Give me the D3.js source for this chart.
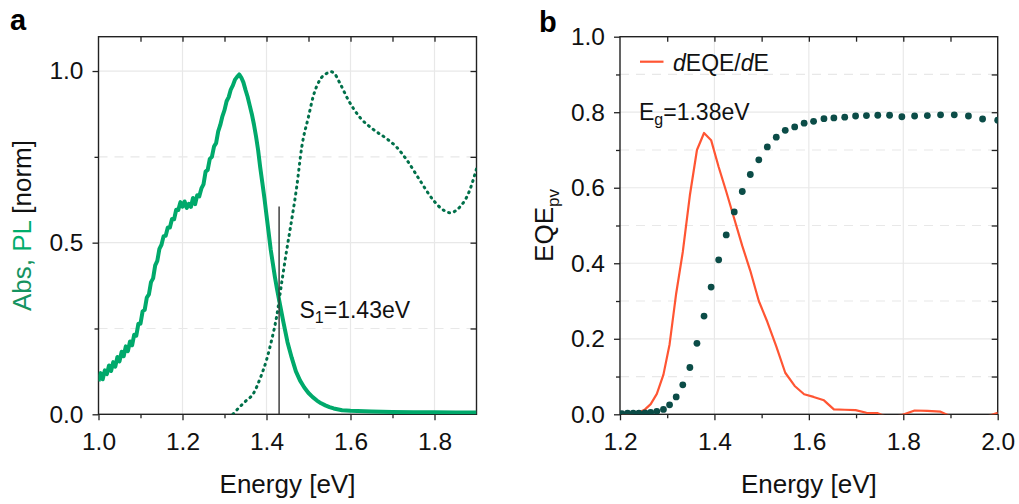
<!DOCTYPE html>
<html><head><meta charset="utf-8">
<script src="https://cdn.jsdelivr.net/npm/d3@7"></script>
<style>
html,body{margin:0;padding:0;background:#fff;}
svg{display:block;font-family:"Liberation Sans",Arial,Helvetica,sans-serif;}
</style></head><body>
<svg id="chart" width="1019" height="504"></svg>
<script>
// ---- panel a: normalised PL (solid) and absorption (dotted) ----
const plEnergy = [1.000,1.005,1.010,1.015,1.020,1.025,1.030,1.035,1.040,1.045,1.050,1.055,1.060,1.065,1.070,1.075,1.080,1.085,1.090,1.095,
  1.100,1.105,1.110,1.115,1.120,1.125,1.130,1.135,1.140,1.145,1.150,1.155,1.160,1.165,1.170,1.175,1.180,1.185,1.190,1.195,
  1.200,1.205,1.210,1.215,1.220,1.225,1.230,1.235,1.240,1.245,1.250,1.255,1.260,1.265,1.270,1.275,1.280,1.285,1.290,1.295,
  1.300,1.305,1.310,1.315,1.320,1.325,1.330,1.335,1.340,1.345,1.350,1.355,1.360,1.365,1.370,1.375,1.380,1.385,1.390,1.395,
  1.400,1.405,1.410,1.415,1.420,1.425,1.430,1.440,1.450,1.460,1.470,1.480,1.490,1.500,1.510,1.520,1.530,1.540,1.550,1.560,
  1.580,1.600,1.650,1.700,1.750,1.800,1.850,1.900];
const plValue = [0.096,0.120,0.102,0.128,0.117,0.142,0.126,0.152,0.139,0.167,0.154,0.182,0.169,0.198,0.184,0.212,0.201,0.232,0.229,0.264,
  0.264,0.300,0.304,0.340,0.349,0.385,0.396,0.434,0.447,0.482,0.494,0.519,0.520,0.544,0.544,0.569,0.568,0.596,0.595,0.618,
  0.605,0.620,0.601,0.613,0.604,0.630,0.612,0.638,0.635,0.658,0.670,0.707,0.712,0.744,0.750,0.780,0.790,0.824,0.843,0.868,
  0.886,0.912,0.924,0.946,0.958,0.975,0.983,0.990,0.981,0.967,0.945,0.925,0.900,0.875,0.845,0.810,0.770,0.720,0.675,0.630,
  0.580,0.530,0.480,0.440,0.400,0.365,0.333,0.270,0.210,0.165,0.125,0.098,0.078,0.062,0.050,0.040,0.032,0.026,0.021,0.017,
  0.012,0.010,0.008,0.007,0.006,0.006,0.005,0.005];

const absEnergy = [1.320,1.335,1.350,1.369,1.385,1.400,1.412,1.424,1.436,1.448,1.456,1.472,1.484,1.500,1.511,1.527,1.543,1.553,1.560,
  1.575,1.595,1.623,1.654,1.686,1.710,1.734,1.765,1.797,1.821,1.837,1.861,1.881,1.900];
const absValue = [0.000,0.020,0.038,0.061,0.105,0.158,0.215,0.284,0.382,0.478,0.537,0.663,0.779,0.867,0.925,0.974,0.993,0.998,0.995,
  0.964,0.915,0.864,0.830,0.803,0.778,0.741,0.682,0.624,0.595,0.587,0.605,0.644,0.715];

const s1Energy = 1.43;      // crossing of Abs and PL
const s1LineTop = 0.605;

// ---- panel b: EQE_pv (dots) and its derivative (line) ----
const eqeEnergy = [1.204,1.216,1.228,1.240,1.253,1.265,1.278,1.292,1.305,1.319,1.333,1.348,1.363,1.378,1.393,1.409,1.425,1.442,1.459,1.476,
  1.494,1.512,1.531,1.550,1.570,1.590,1.610,1.632,1.653,1.676,1.699,1.722,1.746,1.771,1.797,1.824,1.851,1.879,1.908,1.938,1.968,2.000];
const eqeValue = [0.002,0.003,0.003,0.003,0.004,0.005,0.008,0.013,0.025,0.046,0.078,0.124,0.188,0.260,0.337,0.409,0.475,0.536,0.590,0.635,
  0.674,0.708,0.734,0.752,0.761,0.771,0.776,0.783,0.785,0.787,0.790,0.791,0.792,0.792,0.788,0.790,0.791,0.793,0.793,0.790,0.782,0.779];
const dEqeValue = [0.001,0.002,0.003,0.005,0.013,0.027,0.054,0.105,0.185,0.320,0.430,0.580,0.700,0.745,0.726,0.655,0.590,0.518,0.446,0.380,
  0.300,0.245,0.180,0.110,0.075,0.053,0.046,0.037,0.013,0.012,0.011,0.004,0.003,-0.010,-0.002,0.010,0.009,0.007,-0.010,-0.010,-0.010,0.004];

// tick values
const aXMajor = [1.0,1.2,1.4,1.6,1.8];
const aXMinor = [1.1,1.3,1.5,1.7];
const aYMajor = [0.0,0.5,1.0];
const aYMinor = [0.25,0.75];
const bXMajor = [1.2,1.4,1.6,1.8,2.0];
const bXMinor = [1.3,1.5,1.7,1.9];
const bYMajor = [0.0,0.2,0.4,0.6,0.8,1.0];
const bYMinor = [0.1,0.3,0.5,0.7,0.9];

// ---- drawing ----
const svg = d3.select("#chart");
const C = {pl:"#00a96b", abs:"#00704a", eqe:"#0b4c47", deqe:"#ff5533", grid:"#e8e8e8", axis:"#222", text:"#111",
           absLabel:"#15935f", plLabel:"#00ad6b"};
const TICK_FONT = 24.5, TITLE_FONT = 26, NOTE_FONT = 23;

function frame(g, x, y, o) {
  const [x0, x1] = x.range(), [y0, y1] = y.range();
  // grid
  g.append("g").selectAll("line").data(o.xMajor.filter(v => x(v) > x0 + 1 && x(v) < x1 - 1)).join("line")
    .attr("x1", d => x(d)).attr("x2", d => x(d)).attr("y1", y1).attr("y2", y0)
    .attr("stroke", C.grid).attr("stroke-width", 1.2);
  g.append("g").selectAll("line").data(o.yMajor.filter(v => y(v) < y0 - 1 && y(v) > y1 + 1)).join("line")
    .attr("x1", x0).attr("x2", x1).attr("y1", d => y(d)).attr("y2", d => y(d))
    .attr("stroke", C.grid).attr("stroke-width", 1.2);
  g.append("g").selectAll("line").data(o.yMinor).join("line")
    .attr("x1", x0).attr("x2", x1).attr("y1", d => y(d)).attr("y2", d => y(d))
    .attr("stroke", C.grid).attr("stroke-width", 1.2).attr("stroke-dasharray", "9,7");

  const style = sel => {
    sel.select(".domain").remove();
    sel.selectAll(".tick line").attr("stroke", C.axis).attr("stroke-width", 1.3);
    sel.selectAll(".tick text").attr("fill", C.text).attr("font-size", TICK_FONT)
      .attr("font-family", '"Liberation Sans",Arial,sans-serif');
  };
  const fmt = d3.format(".1f");
  g.append("g").attr("transform", `translate(0,${y0})`)
    .call(d3.axisBottom(x).tickValues(o.xMajor).tickFormat(fmt).tickSize(6).tickPadding(12)).call(style);
  g.append("g").attr("transform", `translate(0,${y0})`)
    .call(d3.axisBottom(x).tickValues(o.xMinor).tickFormat("").tickSize(4)).call(style);
  g.append("g").attr("transform", `translate(0,${y1})`)
    .call(d3.axisTop(x).tickValues(o.xMajor.concat(o.xMinor).filter(v => x(v) > x0 + 1 && x(v) < x1 - 1)).tickFormat("").tickSize(-5)).call(style);
  g.append("g").attr("transform", `translate(${x0},0)`)
    .call(d3.axisLeft(y).tickValues(o.yMajor).tickFormat(fmt).tickSize(6).tickPadding(9)).call(style);
  g.append("g").attr("transform", `translate(${x0},0)`)
    .call(d3.axisLeft(y).tickValues(o.yMinor).tickFormat("").tickSize(4)).call(style);
  g.append("g").attr("transform", `translate(${x1},0)`)
    .call(d3.axisRight(y).tickValues(o.yMajor.concat(o.yMinor).filter(v => y(v) < y0 - 1 && y(v) > y1 + 1)).tickFormat("").tickSize(-6)).call(style);

  g.append("rect").attr("x", x0).attr("y", y1).attr("width", x1 - x0).attr("height", y0 - y1)
    .attr("fill", "none").attr("stroke", C.axis).attr("stroke-width", 1.4);

  g.append("text").attr("x", (x0 + x1) / 2).attr("y", 493).attr("text-anchor", "middle")
    .attr("font-size", TITLE_FONT).attr("fill", C.text).text("Energy [eV]");
}

function clip(id, x, y) {
  const [x0, x1] = x.range(), [y0, y1] = y.range();
  svg.append("defs").append("clipPath").attr("id", id).append("rect")
    .attr("x", x0).attr("y", y1).attr("width", x1 - x0).attr("height", y0 - y1);
}

// panel a
{
  const x = d3.scaleLinear().domain([1.0, 1.9]).range([98.5, 476.5]);
  const y = d3.scaleLinear().domain([0, 1.1]).range([414.3, 36.7]);
  const g = svg.append("g");
  frame(g, x, y, {xMajor: aXMajor, xMinor: aXMinor, yMajor: aYMajor, yMinor: aYMinor});
  clip("clipA", x, y);
  const data = g.append("g").attr("clip-path", "url(#clipA)");

  data.append("path").datum(d3.zip(absEnergy, absValue))
    .attr("d", d3.line().x(d => x(d[0])).y(d => y(d[1])).curve(d3.curveMonotoneX))
    .attr("fill", "none").attr("stroke", C.abs).attr("stroke-width", 3)
    .attr("stroke-linecap", "round").attr("stroke-dasharray", "1,5");

  data.append("path").datum(d3.zip(plEnergy, plValue))
    .attr("d", d3.line().x(d => x(d[0])).y(d => y(d[1])))
    .attr("fill", "none").attr("stroke", C.pl).attr("stroke-width", 4).attr("stroke-linejoin", "round");

  g.append("line").attr("x1", x(s1Energy)).attr("x2", x(s1Energy)).attr("y1", y(0)).attr("y2", y(s1LineTop))
    .attr("stroke", "#333").attr("stroke-width", 1.4);

  const s1 = g.append("text").attr("x", 299.5).attr("y", 318).attr("font-size", NOTE_FONT).attr("fill", C.text);
  s1.append("tspan").text("S");
  s1.append("tspan").attr("font-size", 16).attr("dy", 5).text("1");
  s1.append("tspan").attr("dy", -5).text("=" + s1Energy.toFixed(2) + "eV");

  const yt = g.append("text").attr("transform", `translate(31,${(414.3 + 36.7) / 2}) rotate(-90)`)
    .attr("text-anchor", "middle").attr("font-size", TITLE_FONT).attr("fill", C.text);
  yt.append("tspan").attr("fill", C.absLabel).text("Abs, ");
  yt.append("tspan").attr("fill", C.plLabel).text("PL");
  yt.append("tspan").text(" [norm]");

  svg.append("text").attr("x", 10).attr("y", 30).attr("font-size", 29).attr("font-weight", "bold")
    .attr("fill", "#000").text("a");
}

// panel b
{
  const x = d3.scaleLinear().domain([1.2, 2.0]).range([620, 997.7]);
  const y = d3.scaleLinear().domain([0, 1.0]).range([414.3, 36.7]);
  const g = svg.append("g");
  frame(g, x, y, {xMajor: bXMajor, xMinor: bXMinor, yMajor: bYMajor, yMinor: bYMinor});
  clip("clipB", x, y);
  const data = g.append("g").attr("clip-path", "url(#clipB)");

  data.append("path").datum(d3.zip(eqeEnergy, dEqeValue))
    .attr("d", d3.line().x(d => x(d[0])).y(d => y(d[1])))
    .attr("fill", "none").attr("stroke", C.deqe).attr("stroke-width", 2.2).attr("stroke-linejoin", "round");

  data.append("g").selectAll("circle").data(d3.zip(eqeEnergy, eqeValue)).join("circle")
    .attr("cx", d => x(d[0])).attr("cy", d => y(d[1])).attr("r", 3.4).attr("fill", C.eqe);

  // legend
  g.append("line").attr("x1", 640).attr("x2", 663.5).attr("y1", 61.7).attr("y2", 61.7)
    .attr("stroke", C.deqe).attr("stroke-width", 2.2);
  const lg = g.append("text").attr("x", 673).attr("y", 71).attr("font-size", NOTE_FONT).attr("fill", C.text);
  lg.append("tspan").attr("font-style", "italic").text("d");
  lg.append("tspan").text("EQE/");
  lg.append("tspan").attr("font-style", "italic").text("d");
  lg.append("tspan").text("E");

  const eg = g.append("text").attr("x", 639).attr("y", 120).attr("font-size", NOTE_FONT).attr("fill", C.text);
  eg.append("tspan").text("E");
  eg.append("tspan").attr("font-size", 16).attr("dy", 5).text("g");
  eg.append("tspan").attr("dy", -5).text("=1.38eV");

  const yt = g.append("text").attr("transform", `translate(553,${(414.3 + 36.7) / 2}) rotate(-90)`)
    .attr("text-anchor", "middle").attr("font-size", TITLE_FONT).attr("fill", C.text);
  yt.append("tspan").text("EQE");
  yt.append("tspan").attr("font-size", 17).attr("dy", 6).text("pv");

  svg.append("text").attr("x", 539).attr("y", 31.5).attr("font-size", 29).attr("font-weight", "bold")
    .attr("fill", "#000").text("b");
}
</script>
</body></html>
